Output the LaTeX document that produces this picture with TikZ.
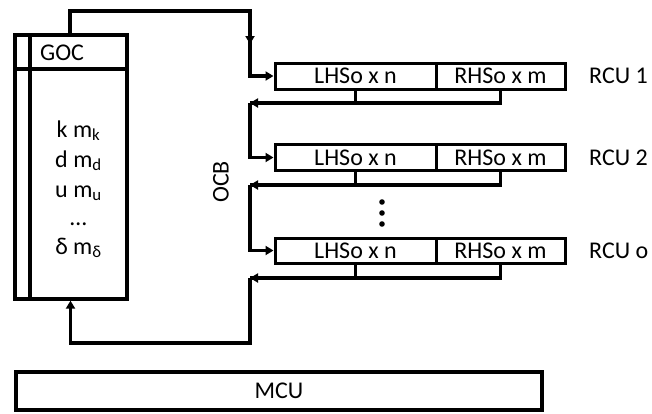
\documentclass[tikz,border=0pt]{standalone}
\usepackage{fontspec}
\setmainfont{Carlito}
\usetikzlibrary{arrows.meta}
\begin{document}
\begin{tikzpicture}[x=1pt,y=-1pt,
  txt/.style={font=\fontsize{24}{28}\selectfont, inner sep=0pt},
  cellbox/.style={draw, line width=3pt, inner sep=0pt, font=\fontsize{24}{28}\selectfont},
  conn/.style={line width=3.3pt, line join=miter},
  arr/.style={conn, -{Triangle[length=8pt,width=9pt]}}]
\useasboundingbox (0,0) rectangle (652,413);
% GOC block
\node[draw, line width=3.3pt, minimum width=112pt, minimum height=264pt, inner sep=0pt] (goc) at (71,167) {};
\coordinate (gocA) at (30,35);
\coordinate (gocB) at (30,299);
\coordinate (gocC) at (15,69);
\coordinate (gocD) at (127,69);
\draw[line width=3.3pt] (gocA) -- (gocB);
\draw[line width=3.3pt] (gocC) -- (gocD);
\node[txt, anchor=west] (goct) at (40,53) {GOC};
\node[txt, anchor=base] (l1) at (78.5,137) {k m\textsubscript{k}};
\node[txt, anchor=base] (l2) at (78.5,167) {d m\textsubscript{d}};
\node[txt, anchor=base] (l3) at (78.5,197) {u m\textsubscript{u}};
\node[txt, anchor=base] (l4) at (78.5,225) {…};
\node[txt, anchor=base] (l5) at (78.5,254) {δ m\textsubscript{δ}};
% RCU rows
\node[cellbox, minimum width=161pt, minimum height=26pt] (r1L) at (355.5,76) {LHSo x n};
\node[cellbox, minimum width=129pt, minimum height=26pt] (r1R) at (500.5,76) {RHSo x m};
\node[cellbox, minimum width=161pt, minimum height=26pt] (r2L) at (355.5,157.5) {LHSo x n};
\node[cellbox, minimum width=129pt, minimum height=26pt] (r2R) at (500.5,157.5) {RHSo x m};
\node[cellbox, minimum width=161pt, minimum height=25pt] (r3L) at (355.5,250.5) {LHSo x n};
\node[cellbox, minimum width=129pt, minimum height=25pt] (r3R) at (500.5,250.5) {RHSo x m};
\node[txt, anchor=west] (n1) at (589,76) {RCU 1};
\node[txt, anchor=west] (n2) at (589,157.5) {RCU 2};
\node[txt, anchor=west] (n3) at (589,250.5) {RCU o};
% OCB label
\node[txt, rotate=90] (ocb) at (221,182) {OCB};
% dots
\fill (382,202) circle (2.8pt) (382,213) circle (2.8pt) (382,224) circle (2.8pt);
% bus coordinates
\coordinate (t1) at (70,11);
\coordinate (t2) at (250,11);
\coordinate (t3) at (250,44);
\coordinate (b1) at (250,103);
\coordinate (b2) at (250,185);
\coordinate (b3) at (250,278);
\coordinate (m1) at (250,343);
\coordinate (m2) at (70.5,343);
% top connector
\draw[conn] (goc.north -| t1) -- (t1) -- (t2) -- (t3);
\draw[arr] (t2) -- (t3);
\draw[arr] (t3) |- (r1L.west);
% outputs of RCU 1
\draw[conn] (r1L.south) |- (b1);
\draw[arr] (r1R.south) |- (b1);
\draw[arr] (b1) |- (r2L.west);
% outputs of RCU 2
\draw[conn] (r2L.south) |- (b2);
\draw[arr] (r2R.south) |- (b2);
\draw[arr] (b2) |- (r3L.west);
% outputs of RCU o
\draw[conn] (r3L.south) |- (b3);
\draw[arr] (r3R.south) |- (b3);
\draw[arr] (b3) -- (m1) -- (m2) -- (goc.south -| m2);
% MCU
\node[draw, line width=3.3pt, minimum width=526pt, minimum height=38pt, inner sep=0pt, font=\fontsize{24}{28}\selectfont] (mcu) at (279,391) {MCU};
\end{tikzpicture}
\end{document}
